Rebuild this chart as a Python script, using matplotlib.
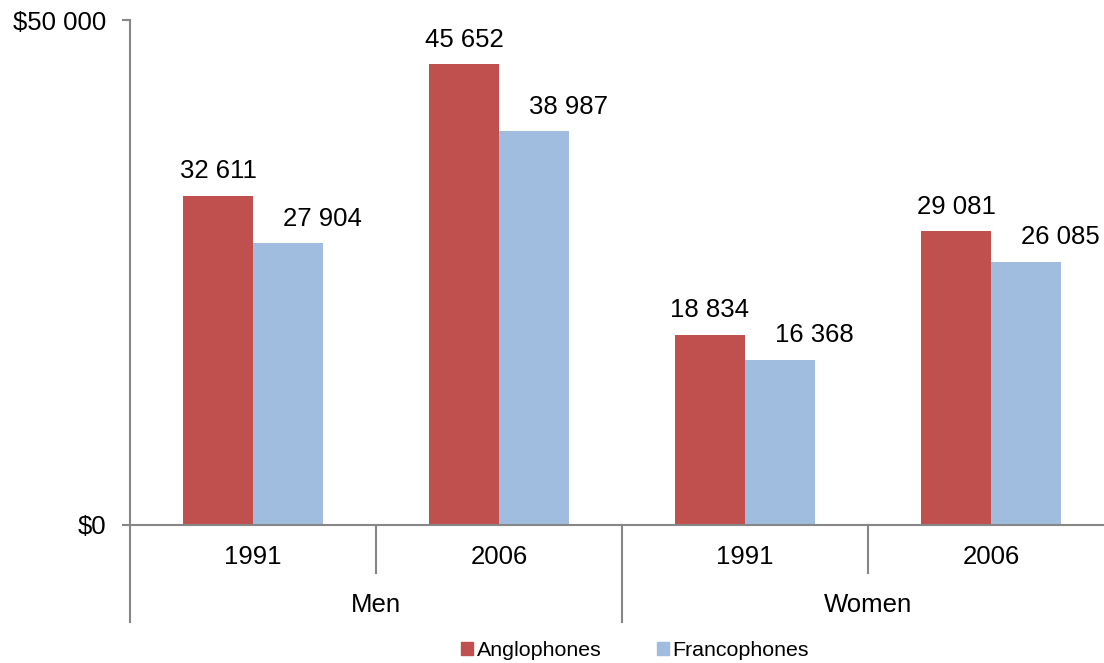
import matplotlib
matplotlib.use("Agg")
import matplotlib.pyplot as plt
import numpy as np
from matplotlib.patches import Patch

plt.rcParams['font.family'] = ['Liberation Sans', 'DejaVu Sans']

groups = ["Men", "Women"]
years = ["1991", "2006", "1991", "2006"]
series_names = ["Anglophones", "Francophones"]
anglophones = [32611, 45652, 18834, 29081]
francophones = [27904, 38987, 16368, 26085]
colors = ["#C0504D", "#A0BCDE"]
ytick_vals = [0, 50000]
ytick_labels = ["$0", "$50 000"]

W, H = 1104, 663
fig = plt.figure(figsize=(W / 100, H / 100), dpi=100)
ax = fig.add_axes([130 / W, (H - 525) / H, 1 - 130 / W, (525 - 20) / H])

FS = 18.5
x = np.arange(len(years)) + 0.5
bw = 70 / 246
for vals, col, off, lx in [(anglophones, colors[0], -bw / 2, 0), (francophones, colors[1], bw / 2, 24.5)]:
    bars = ax.bar(x + off, vals, width=bw, color=col, zorder=2)
    for b, v in zip(bars, vals):
        ax.annotate(f"{v:,}".replace(",", " "), (b.get_x() + b.get_width() / 2, v),
                    xytext=(lx, 12.5), textcoords="offset points", ha="center", va="baseline",
                    fontsize=FS, color="black")

ax.set_xlim(0, (W - 130) / 246)
ax.set_ylim(0, 50000)
ax.set_yticks(ytick_vals)
ax.set_yticklabels(ytick_labels, fontsize=FS)
ax.tick_params(axis="y", length=6, width=1.5, color="#868686", pad=11)
ax.set_xticks([])
for s in ["top", "right", "left"]:
    ax.spines[s].set_visible(False)
ax.spines["bottom"].set_color("#868686")
ax.spines["bottom"].set_linewidth(1.5)

gray = "#868686"
tr = ax.get_xaxis_transform()
axh = 525 - 20
def yfrac(py):
    return (525 - py) / axh
ax.plot([0, 0], [1, yfrac(622)], transform=tr, color=gray, lw=1.5, clip_on=False)
for xb, yend in [(1, 573), (2, 622), (3, 573)]:
    ax.plot([xb, xb], [0, yfrac(yend)], transform=tr, color=gray, lw=1.5, clip_on=False)
for xi, yl in zip(x, years):
    ax.text(xi, yfrac(557), yl, transform=tr, ha="center", va="center", fontsize=FS)
for gi, g in enumerate(groups):
    ax.text(2 * gi + 1, yfrac(605), g, transform=tr, ha="center", va="center", fontsize=FS)

handles = [Patch(color=c) for c in colors]
fig.legend(handles, series_names, loc="center", bbox_to_anchor=(635 / W, 1 - 651 / H),
           ncol=2, frameon=False, fontsize=15.4, handlelength=0.56, handleheight=0.56,
           handletextpad=0.19, columnspacing=2.57, borderpad=0, borderaxespad=0)

fig.savefig("out.png", dpi=100)
